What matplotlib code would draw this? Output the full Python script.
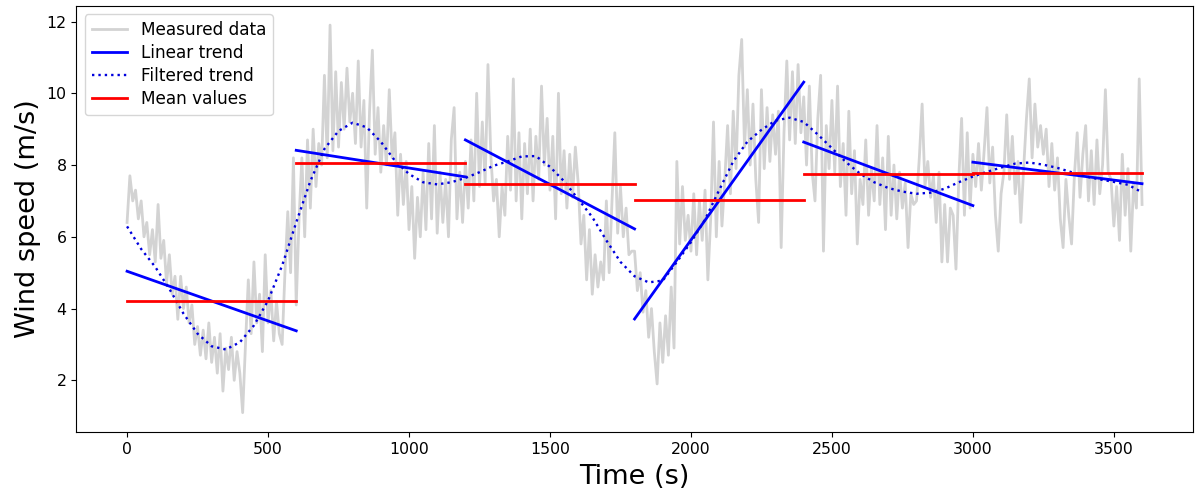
import matplotlib
matplotlib.use("Agg")
import matplotlib.pyplot as plt
import numpy as np

# measured wind speed, one reading every 10 s
sample_step = 10
wind_speed = [
    # 0 - 590 s
    6.4, 7.7, 7.0, 7.3, 6.5, 7.0, 6.0, 6.4, 5.5, 6.2,
    5.3, 6.9, 5.4, 5.9, 4.7, 5.5, 4.4, 4.9, 3.7, 4.9,
    4.0, 4.6, 3.6, 4.1, 3.0, 3.5, 2.7, 3.4, 2.6, 3.6,
    2.5, 3.2, 2.2, 3.3, 1.7, 2.9, 2.3, 3.2, 2.0, 2.8,
    2.2, 1.1, 3.0, 4.8, 3.3, 5.3, 3.6, 4.4, 2.8, 5.5,
    3.6, 4.5, 3.1, 4.2, 3.3, 3.0, 5.0, 6.7, 5.0, 8.2,
    # 600 - 1190 s
    4.1, 6.5, 8.2, 6.0, 8.7, 6.8, 9.0, 7.4, 8.6, 8.0,
    10.5, 8.2, 11.9, 8.4, 10.6, 8.5, 10.3, 9.0, 10.7, 9.2,
    10.0, 8.6, 10.9, 8.5, 9.8, 6.8, 9.5, 11.2, 8.3, 9.6,
    7.8, 9.1, 8.0, 10.1, 8.2, 8.9, 6.6, 8.3, 6.9, 8.1,
    6.2, 7.4, 5.4, 7.1, 6.0, 7.8, 6.2, 8.6, 6.5, 9.1,
    6.1, 7.8, 6.4, 7.6, 6.0, 8.7, 9.6, 6.5, 7.8, 6.4,
    # 1200 - 1790 s
    8.1, 6.8, 8.7, 7.0, 10.0, 7.4, 9.2, 7.5, 10.8, 8.3,
    7.0, 7.6, 6.0, 7.4, 6.6, 8.8, 7.3, 10.4, 7.0, 8.9,
    6.5, 8.6, 7.2, 9.0, 7.0, 8.8, 7.6, 10.2, 8.0, 9.3,
    7.3, 8.8, 6.5, 10.0, 7.2, 8.4, 6.8, 8.3, 7.1, 8.5,
    7.5, 5.8, 6.6, 4.8, 6.2, 4.4, 5.5, 4.6, 5.3, 4.8,
    7.0, 5.0, 7.0, 8.9, 6.1, 7.4, 6.0, 6.8, 5.5, 5.6,
    # 1800 - 2390 s
    5.6, 4.5, 5.0, 3.9, 4.5, 3.2, 4.0, 2.8, 1.9, 3.6,
    2.5, 3.8, 2.7, 4.6, 2.9, 8.1, 5.8, 7.4, 5.9, 6.6,
    5.6, 7.2, 5.5, 7.0, 5.9, 7.3, 4.8, 6.5, 9.2, 6.0,
    8.1, 6.3, 7.6, 9.1, 7.2, 9.5, 7.9, 10.5, 11.5, 8.5,
    10.1, 8.0, 9.7, 7.6, 6.4, 10.1, 7.9, 9.6, 8.1, 9.4,
    8.3, 9.5, 5.7, 8.9, 10.9, 8.7, 10.6, 8.6, 10.8, 8.9,
    # 2400 - 2990 s
    9.9, 8.0, 10.2, 7.8, 7.0, 9.3, 10.5, 5.6, 9.1, 7.9,
    9.8, 7.8, 10.2, 7.4, 8.6, 6.6, 9.5, 7.2, 8.4, 5.8,
    7.6, 6.9, 8.7, 6.6, 7.9, 7.0, 9.1, 6.9, 8.2, 6.2,
    8.8, 6.6, 8.0, 6.5, 7.8, 6.8, 7.5, 5.7, 7.2, 6.9,
    7.0, 8.2, 9.7, 7.4, 8.1, 7.1, 7.7, 6.4, 7.8, 5.3,
    6.9, 5.3, 6.8, 6.6, 5.1, 7.6, 9.3, 6.6, 8.9, 6.8,
    # 3000 - 3600 s
    8.3, 7.4, 8.6, 7.3, 8.4, 9.6, 7.5, 8.5, 6.6, 5.6,
    7.2, 7.8, 9.4, 7.6, 8.8, 7.2, 8.1, 6.4, 7.9, 9.3,
    10.4, 8.2, 9.7, 8.5, 9.1, 8.3, 9.0, 7.4, 8.6, 7.3,
    8.2, 6.5, 5.7, 7.6, 6.6, 5.8, 7.7, 8.9, 7.1, 8.3,
    9.1, 7.0, 8.4, 6.9, 8.7, 7.2, 8.0, 10.1, 7.8, 7.6,
    6.3, 7.4, 5.9, 8.3, 6.6, 7.9, 5.6, 7.5, 6.8, 10.4,
    6.9,
]

# filtered (low-pass) trend, read every 50 s
filtered_step = 50
filtered_trend = [
    6.29, 5.66, 5.16, 4.55, 3.86, 3.30, 2.95, 2.86, 3.06, 3.53,
    4.22, 5.20, 6.40, 7.55, 8.45, 8.95, 9.18, 9.05, 8.65, 8.12,
    7.75, 7.52, 7.46, 7.52, 7.64, 7.80, 7.98, 8.10, 8.24, 8.25,
    7.95, 7.55, 7.05, 6.55, 5.90, 5.30, 4.90, 4.73, 4.78, 5.30,
    5.85, 6.48, 7.30, 8.10, 8.65, 8.98, 9.24, 9.32, 9.20, 8.85,
    8.47, 8.08, 7.76, 7.52, 7.36, 7.26, 7.20, 7.23, 7.34, 7.52,
    7.68, 7.81, 7.93, 8.04, 8.07, 8.01, 7.92, 7.80, 7.68, 7.60,
    7.53, 7.45, 7.24,
]

# 10-minute blocks
block_start = [0, 600, 1200, 1800, 2400, 3000]
block_length = 600
mean_values = [4.21, 8.05, 7.47, 7.02, 7.75, 7.79]
trend_start = [5.04, 8.41, 8.70, 3.71, 8.64, 8.08]
trend_end = [3.38, 7.67, 6.22, 10.31, 6.87, 7.48]

time = np.arange(len(wind_speed)) * sample_step
filtered_time = np.arange(len(filtered_trend)) * filtered_step

fig, ax = plt.subplots(figsize=(12, 5.01), dpi=100)
fig.subplots_adjust(left=0.0636, right=0.994, bottom=0.1377, top=0.9886)

ax.plot(time, wind_speed, color="lightgray", lw=2, label="Measured data")
for i, t0 in enumerate(block_start):
    ax.plot([t0, t0 + block_length], [trend_start[i], trend_end[i]],
            color="blue", lw=2, label="Linear trend" if i == 0 else None)
ax.plot(filtered_time, filtered_trend, color="#0000dd", lw=1.7,
        dashes=(1, 1.7), label="Filtered trend")
for i, t0 in enumerate(block_start):
    ax.plot([t0, t0 + block_length], [mean_values[i], mean_values[i]],
            color="red", lw=2, label="Mean values" if i == 0 else None)

ax.set_xlabel("Time (s)", fontsize=19.5, labelpad=5)
ax.set_ylabel("Wind speed (m/s)", fontsize=19.5)
ax.tick_params(labelsize=11.3)
ax.set_yticks([2, 4, 6, 8, 10, 12])
ax.legend(loc="upper left", fontsize=12.2, handlelength=2.1,
          labelspacing=0.3)

fig.savefig("out.png", dpi=100)
